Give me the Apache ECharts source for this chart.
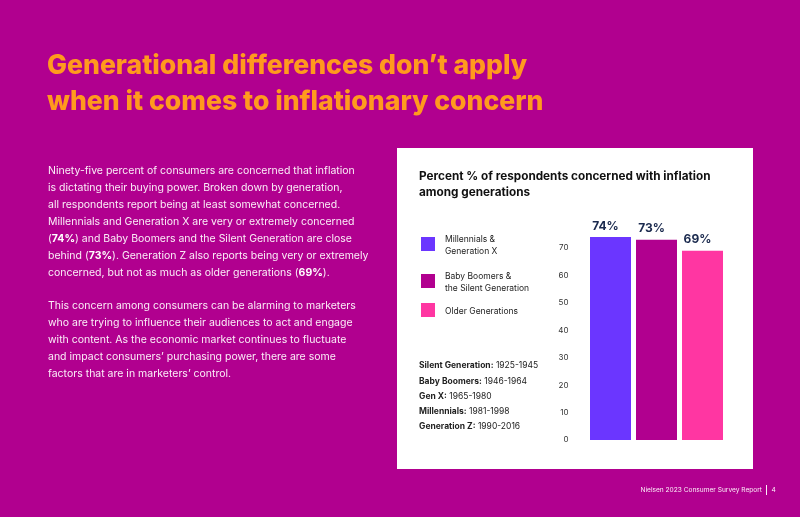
<!DOCTYPE html>
<html lang="en">
<head>
    <meta charset="UTF-8">
    <title>Generational differences</title>
    <style>
        * { margin: 0; padding: 0; }
        html, body { width: 800px; height: 517px; overflow: hidden; background: #B1008F; }
        #chart { width: 800px; height: 517px; }
    </style>
</head>
<body>
    <div id="chart"></div>
    <script src="https://cdn.jsdelivr.net/npm/echarts@6/dist/echarts.min.js"></script>
    <script>
        // data
        var categories = ['Millennials & Generation X', 'Baby Boomers & the Silent Generation', 'Older Generations'];
        var values = [74, 73, 69];
        var barColors = ['#6B36FF', '#B1008F', '#FF36A2'];
        var legendLines = [['Millennials &', 'Generation X'], ['Baby Boomers &', 'the Silent Generation'], ['Older Generations']];
        var genNames = ['Silent Generation:', 'Baby Boomers:', 'Gen X:', 'Millennials:', 'Generation Z:'];
        var genYears = ['1925-1945', '1946-1964', '1965-1980', '1981-1998', '1990-2016'];
        var titleLines = ['Generational differences don\u2019t apply', 'when it comes to inflationary concern'];
        var bodyLines = [
            'Ninety-five percent of consumers are concerned that inflation',
            'is dictating their buying power. Broken down by generation,',
            'all respondents report being at least somewhat concerned.',
            'Millennials and Generation X are very or extremely concerned',
            '({b|74%}) and Baby Boomers and the Silent Generation are close',
            'behind ({b|73%}). Generation Z also reports being very or extremely',
            'concerned, but not as much as older generations ({b|69%}).',
            '',
            'This concern among consumers can be alarming to marketers',
            'who are trying to influence their audiences to act and engage',
            'with content. As the economic market continues to fluctuate',
            'and impact consumers\u2019 purchasing power, there are some',
            'factors that are in marketers\u2019 control.'
        ];
        var chartTitle = ['Percent % of respondents concerned with inflation', 'among generations'];
        var footer = 'Nielsen 2023 Consumer Survey Report';
        var pageNo = '4';

        var FONT = 'Inter, "Noto Sans", sans-serif';
        var chart = echarts.init(document.getElementById('chart'));

        var graphics = [];
        // white card
        graphics.push({ type: 'rect', shape: { x: 397, y: 148, width: 356, height: 321 }, style: { fill: '#ffffff' }, z: -10 });

        titleLines.forEach(function (t, i) {
            graphics.push({ type: 'text', x: 47, y: 66 + i * 36,
                style: { text: t, fill: '#FF9A1E', font: '800 26.6px ' + FONT, verticalAlign: 'middle' } });
        });

        var bodyY = 171;
        bodyLines.forEach(function (t, i) {
            if (t) {
                graphics.push({ type: 'text', x: 48, y: bodyY + i * 16.9,
                    style: { text: t, fill: '#fbeef8', font: '10.5px ' + FONT, verticalAlign: 'middle',
                        rich: { b: { fontWeight: 'bold', fontSize: 10.5, fontFamily: FONT, fill: '#ffffff' } } } });
            }
        });

        chartTitle.forEach(function (t, i) {
            graphics.push({ type: 'text', x: 419, y: 176 + i * 16,
                style: { text: t, fill: '#111111', font: 'bold 11.75px ' + FONT, verticalAlign: 'middle' } });
        });

        var legendTops = [237, 274, 303];
        legendLines.forEach(function (lines, i) {
            graphics.push({ type: 'rect', shape: { x: 421, y: legendTops[i], width: 14, height: 14 },
                style: { fill: barColors[i] } });
            var cy = legendTops[i] + 7;
            lines.forEach(function (t, j) {
                var off = lines.length === 2 ? (j === 0 ? -5 : 7) : 1;
                graphics.push({ type: 'text', x: 445, y: cy + off,
                    style: { text: t, fill: '#222222', font: '8.5px ' + FONT, verticalAlign: 'middle' } });
            });
        });

        var genYs = [365, 381, 396, 411, 426];
        genNames.forEach(function (n, i) {
            graphics.push({ type: 'text', x: 419, y: genYs[i],
                style: { text: '{b|' + n + '} ' + genYears[i], fill: '#222222', font: '8.5px ' + FONT, verticalAlign: 'middle',
                    rich: { b: { fontWeight: 'bold', fontSize: 8.5, fontFamily: FONT, fill: '#222222' } } } });
        });

        graphics.push({ type: 'text', x: 762, y: 490,
            style: { text: footer, fill: '#fbeef8', font: '6.6px ' + FONT, align: 'right', verticalAlign: 'middle' } });
        graphics.push({ type: 'line', shape: { x1: 766.5, y1: 485, x2: 766.5, y2: 495 }, style: { stroke: '#fbeef8', lineWidth: 1 } });
        graphics.push({ type: 'text', x: 771.5, y: 490,
            style: { text: pageNo, fill: '#fbeef8', font: '6.6px ' + FONT, verticalAlign: 'middle' } });

        var option = {
            backgroundColor: '#B1008F',
            animation: false,
            grid: { left: 587.5, width: 138, top: 234.3, bottom: 77, containLabel: false },
            xAxis: {
                type: 'category', data: categories,
                axisLine: { show: false }, axisTick: { show: false }, axisLabel: { show: false }
            },
            yAxis: {
                type: 'value', min: 0, max: 75, interval: 10,
                splitLine: { show: false }, axisLine: { show: false }, axisTick: { show: false },
                axisLabel: { color: '#333333', fontSize: 8, fontFamily: FONT, margin: 19, showMaxLabel: false }
            },
            series: [{
                type: 'bar',
                barWidth: 41,
                data: values.map(function (v, i) {
                    return { value: v, itemStyle: { color: barColors[i] } };
                }),
                label: {
                    show: true, position: 'top', distance: 5, offset: [-5, 0],
                    formatter: '{c}%', color: '#1B2A4E', fontSize: 12, fontWeight: 'bold', fontFamily: FONT
                }
            }],
            graphic: graphics
        };
        chart.setOption(option);
    </script>
</body>
</html>
